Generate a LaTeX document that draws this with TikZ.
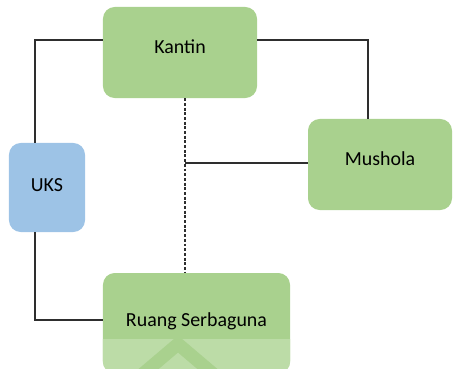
\documentclass[tikz,border=0pt]{standalone}
\usepackage{fontspec}
\setmainfont{Carlito}
\definecolor{roomgreen}{HTML}{A9D18E}
\definecolor{bandgreen}{HTML}{BCDCA7}
\definecolor{roomblue}{HTML}{9DC3E6}
\definecolor{linegray}{HTML}{2E2E2E}

\begin{document}
\begin{tikzpicture}[x=0.03cm,y=-0.03cm]
\useasboundingbox (0,0) rectangle (453,369);
\clip (0,0) rectangle (453,369);
   \tikzset{RoomStyle/.style = {shape = rectangle, rounded corners = 10pt, fill = roomgreen,
            inner sep = 0pt}}
   \tikzset{RoomText/.style = {font = \fontsize{17}{20}\selectfont}}
   \tikzset{WallStyle/.style = {draw = linegray, line width = 1pt}}
   \node[RoomStyle, minimum width = 4.62cm, minimum height = 2.73cm,
         label = {[RoomText, yshift = 5pt]center:Kantin}] (Kantin) at (180,52.5) {};
   \node[RoomStyle, minimum width = 4.32cm, minimum height = 2.73cm,
         label = {[RoomText, yshift = 5pt]center:Mushola}] (Mushola) at (380,164.5) {};
   \node[RoomStyle, fill = roomblue, minimum width = 2.28cm, minimum height = 2.67cm,
         label = {[RoomText, yshift = 2pt]center:UKS}] (UKS) at (47,187.5) {};
   \node[RoomStyle, minimum width = 5.61cm, minimum height = 3cm] (Ruang) at (196.5,323) {};

   \begin{scope}
      \clip[rounded corners = 10pt] (Ruang.south west) rectangle (Ruang.north east);
      \fill[bandgreen] (100,339) rectangle (295,380);
      \draw[roomgreen, line width = 0.39cm] (138,378) -- (178,344) -- (218,378);
   \end{scope}
   \node[RoomText] (RuangText) at (196.5,321) {Ruang Serbaguna};

   \coordinate (tl) at (35,40);
   \coordinate (tr) at (368,40);
   \coordinate (bl) at (35,320);
   \coordinate (mid) at (185,163);

   \draw[WallStyle] (Kantin.west |- tl) -- (tl) -- (tl |- UKS.north);
   \draw[WallStyle] (bl |- UKS.south) -- (bl) -- (bl -| Ruang.west);
   \draw[WallStyle] (Kantin.east |- tr) -- (tr) -- (tr |- Mushola.north);
   \draw[WallStyle, dash pattern = on 2.5pt off 1.5pt] (mid |- Kantin.south) -- (mid |- Ruang.north);
   \draw[WallStyle] (mid) -- (mid -| Mushola.west);

\end{tikzpicture}
\end{document}
